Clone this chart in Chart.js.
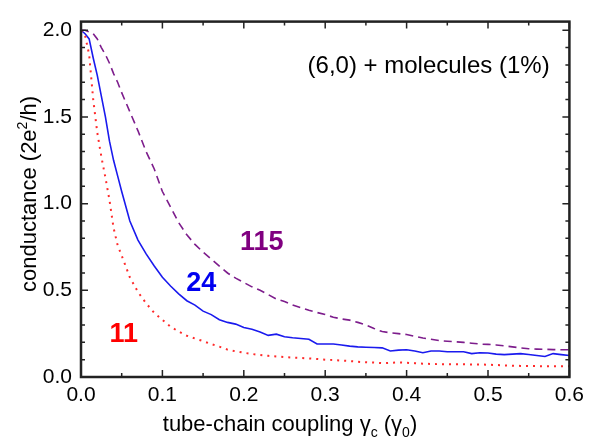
<!DOCTYPE html>
<html>
<head>
<meta charset="utf-8">
<script src="https://cdn.jsdelivr.net/npm/chart.js@4"></script>
<style>
html, body { margin: 0; padding: 0; background: #fff; }
</style>
</head>
<body>
<canvas id="chart" width="590" height="441"></canvas>
<script>
// coupling values (gamma_c / gamma_0)
const couplings = [0, 0.005, 0.01, 0.015, 0.02, 0.025, 0.03, 0.035, 0.04, 0.045,
  0.05, 0.06, 0.07, 0.08, 0.09, 0.10, 0.11, 0.12, 0.13, 0.14, 0.15, 0.16, 0.17, 0.18, 0.19,
  0.20, 0.21, 0.22, 0.23, 0.24, 0.25, 0.26, 0.27, 0.28, 0.29, 0.30, 0.31, 0.32, 0.33, 0.34,
  0.35, 0.36, 0.37, 0.38, 0.39, 0.40, 0.41, 0.42, 0.43, 0.44, 0.45, 0.46, 0.47, 0.48, 0.49,
  0.50, 0.51, 0.52, 0.53, 0.54, 0.55, 0.56, 0.57, 0.58, 0.59, 0.60];

// conductance (2e^2/h) for each molecule
const cond11 = [2.0, 1.97, 1.86, 1.6, 1.41, 1.27, 1.15, 1.02, 0.86, 0.76,
  0.70, 0.575, 0.49, 0.425, 0.37, 0.33, 0.29, 0.262, 0.238, 0.222, 0.207, 0.19, 0.175, 0.158, 0.148,
  0.14, 0.133, 0.127, 0.122, 0.118, 0.115, 0.112, 0.11, 0.107, 0.104, 0.10, 0.098, 0.095, 0.092, 0.088,
  0.085, 0.083, 0.08, 0.082, 0.084, 0.082, 0.08, 0.077, 0.075, 0.074, 0.074, 0.073, 0.073, 0.072, 0.072,
  0.071, 0.069, 0.067, 0.065, 0.064, 0.063, 0.063, 0.062, 0.062, 0.062, 0.062];

const cond24 = [2.0, 1.98, 1.95, 1.84, 1.74, 1.62, 1.50, 1.36, 1.25, 1.16,
  1.07, 0.90, 0.79, 0.71, 0.64, 0.575, 0.525, 0.48, 0.44, 0.415, 0.38, 0.36, 0.33, 0.315, 0.305,
  0.285, 0.275, 0.26, 0.24, 0.247, 0.232, 0.226, 0.222, 0.218, 0.19, 0.19, 0.19, 0.185, 0.178, 0.174,
  0.172, 0.17, 0.168, 0.15, 0.155, 0.157, 0.15, 0.14, 0.15, 0.15, 0.146, 0.146, 0.146, 0.135, 0.14,
  0.138, 0.132, 0.129, 0.132, 0.135, 0.13, 0.124, 0.118, 0.135, 0.129, 0.124];

const cond115 = [2.0, 2.0, 1.99, 1.98, 1.95, 1.90, 1.86, 1.81, 1.75, 1.70,
  1.64, 1.53, 1.42, 1.30, 1.20, 1.07, 0.98, 0.89, 0.82, 0.765, 0.72, 0.68, 0.64, 0.60, 0.57,
  0.545, 0.52, 0.50, 0.475, 0.45, 0.435, 0.415, 0.40, 0.385, 0.372, 0.36, 0.345, 0.335, 0.328, 0.315,
  0.30, 0.28, 0.262, 0.255, 0.25, 0.245, 0.235, 0.225, 0.218, 0.21, 0.206, 0.203, 0.20, 0.195, 0.19,
  0.188, 0.185, 0.18, 0.174, 0.168, 0.163, 0.161, 0.16, 0.158, 0.157, 0.157];

const xTicks = [0, 0.1, 0.2, 0.3, 0.4, 0.5, 0.6];
const yTicks = [0, 0.5, 1.0, 1.5, 2.0];

// curve labels, placed in data units
const curveLabels = [
  { text: "115", x: 0.222, y: 0.774, color: "#800080" },
  { text: "24", x: 0.1476, y: 0.538, color: "#0000f0" },
  { text: "11", x: 0.0524, y: 0.247, color: "#ff0000" }
];

const FONT = "'Liberation Sans', Arial, Helvetica, sans-serif";

function toPoints(ys) {
  return couplings.map((c, i) => ({ x: c, y: ys[i] }));
}

// draws a string with sub/superscript parts centred on cx
function drawRich(ctx, parts, cx, cy, size) {
  let total = 0;
  parts.forEach((p) => {
    ctx.font = (p.s ? Math.round(size * 0.62) : size) + "px " + FONT;
    p.w = ctx.measureText(p.t).width;
    total += p.w;
  });
  let x = cx - total / 2;
  parts.forEach((p) => {
    ctx.font = (p.s ? Math.round(size * 0.62) : size) + "px " + FONT;
    let dy = 0;
    if (p.s === "sub") dy = size * 0.28;
    if (p.s === "sup") dy = -size * 0.42;
    ctx.fillText(p.t, x, cy + dy);
    x += p.w;
  });
}

const decorations = {
  id: "decorations",
  afterDatasetsDraw(chart) {
    const ctx = chart.ctx;
    const a = chart.chartArea;
    const xs = chart.scales.x;
    const ys = chart.scales.y;
    ctx.save();
    ctx.strokeStyle = "#222";
    ctx.lineWidth = 1.5;
    ctx.beginPath();
    for (let i = 0; i <= 12; i++) {
      const px = xs.getPixelForValue(i * 0.05);
      const len = i % 2 === 0 ? 7 : 4;
      ctx.moveTo(px, a.bottom); ctx.lineTo(px, a.bottom - len);
      ctx.moveTo(px, a.top); ctx.lineTo(px, a.top + len);
    }
    for (let i = 0; i <= 20; i++) {
      const py = ys.getPixelForValue(i * 0.1);
      const len = i % 5 === 0 ? 7 : 4;
      ctx.moveTo(a.left, py); ctx.lineTo(a.left + len, py);
      ctx.moveTo(a.right, py); ctx.lineTo(a.right - len, py);
    }
    ctx.stroke();
    ctx.lineWidth = 2.5;
    ctx.strokeRect(a.left, a.top, a.right - a.left, a.bottom - a.top);

    // curve labels
    ctx.textAlign = "center";
    ctx.textBaseline = "middle";
    ctx.font = "bold 27px " + FONT;
    curveLabels.forEach((l) => {
      ctx.fillStyle = l.color;
      ctx.fillText(l.text, xs.getPixelForValue(l.x), ys.getPixelForValue(l.y));
    });

    ctx.fillStyle = "#000";
    ctx.font = "24px " + FONT;
    ctx.fillText("(6,0) + molecules (1%)", xs.getPixelForValue(0.427), ys.getPixelForValue(1.794));

    // axis titles
    ctx.textAlign = "left";
    ctx.textBaseline = "alphabetic";
    drawRich(ctx, [
      { t: "tube-chain coupling \u03b3" }, { t: "c", s: "sub" },
      { t: " (\u03b3" }, { t: "0", s: "sub" }, { t: ")" }
    ], 290, 431, 22);

    ctx.save();
    ctx.translate(36, 194);
    ctx.rotate(-Math.PI / 2);
    drawRich(ctx, [
      { t: "conductance (2e" }, { t: "2", s: "sup" }, { t: "/h)" }
    ], 0, 0, 22);
    ctx.restore();
    ctx.restore();
  }
};

new Chart(document.getElementById("chart"), {
  type: "line",
  data: {
    datasets: [
      {
        label: "11",
        data: toPoints(cond11),
        borderColor: "#ff2a2a",
        borderWidth: 2,
        borderDash: [2, 5],
        pointRadius: 0,
        tension: 0
      },
      {
        label: "24",
        data: toPoints(cond24),
        borderColor: "#1a1aee",
        borderWidth: 1.6,
        pointRadius: 0,
        tension: 0
      },
      {
        label: "115",
        data: toPoints(cond115),
        borderColor: "#7d1d8c",
        borderWidth: 1.6,
        borderDash: [8, 5],
        pointRadius: 0,
        tension: 0
      }
    ]
  },
  options: {
    responsive: false,
    animation: false,
    layout: { padding: { left: 0, right: 17, top: 11, bottom: 0 } },
    plugins: {
      legend: { display: false },
      tooltip: { enabled: false }
    },
    scales: {
      x: {
        type: "linear",
        min: 0,
        max: 0.6,
        afterBuildTicks: (s) => { s.ticks = xTicks.map((v) => ({ value: v })); },
        afterFit: (s) => { s.height = 64; },
        grid: { display: false, drawTicks: false },
        border: { display: false },
        ticks: {
          padding: 6,
          color: "#000",
          font: { family: FONT, size: 21 },
          maxRotation: 0,
          callback: (v) => v.toFixed(1)
        }
      },
      y: {
        type: "linear",
        min: 0,
        max: 2.05,
        afterBuildTicks: (s) => { s.ticks = yTicks.map((v) => ({ value: v })); },
        afterFit: (s) => { s.width = 81; },
        grid: { display: false, drawTicks: false },
        border: { display: false },
        ticks: {
          padding: 9,
          color: "#000",
          font: { family: FONT, size: 21 },
          callback: (v) => v.toFixed(1)
        }
      }
    }
  },
  plugins: [decorations]
});
</script>
</body>
</html>
